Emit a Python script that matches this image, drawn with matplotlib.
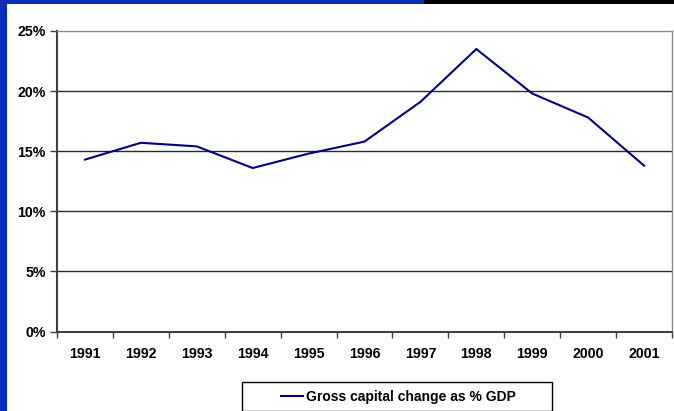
import matplotlib.pyplot as plt
from matplotlib.patches import Rectangle
from matplotlib.ticker import FixedLocator, FuncFormatter

# gross capital change, % of GDP
years = ['1991', '1992', '1993', '1994', '1995', '1996',
         '1997', '1998', '1999', '2000', '2001']
capital_pct = [14.3, 15.7, 15.4, 13.6, 14.8, 15.8,
               19.1, 23.5, 19.8, 17.8, 13.8]
y_ticks = [0, 5, 10, 15, 20, 25]

plt.rcParams['font.family'] = ['Liberation Sans', 'DejaVu Sans']

fig = plt.figure(figsize=(6.74, 4.11), dpi=100)
fig.patch.set_facecolor('white')

# slide decoration: blue edge on the left, blue/black strip on top
fig.add_artist(Rectangle((0, 0), 7 / 674, 1, transform=fig.transFigure,
                         facecolor='#0a2fb6', edgecolor='none'))
fig.add_artist(Rectangle((0, 1 - 4 / 411), 424 / 674, 4 / 411, transform=fig.transFigure,
                         facecolor='#0a2fb6', edgecolor='none'))
fig.add_artist(Rectangle((424 / 674, 1 - 4 / 411), 250 / 674, 4 / 411, transform=fig.transFigure,
                         facecolor='black', edgecolor='none'))

ax = fig.add_axes([57 / 674, 79.5 / 411, 615 / 674, 300.5 / 411])

x = [i + 0.5 for i in range(len(years))]
line, = ax.plot(x, capital_pct, color='#000080', lw=1.5, solid_joinstyle='miter',
                label='Gross capital change as % GDP', zorder=3)

ax.set_xlim(0, len(years))
ax.set_ylim(0, 25)

# category boundaries carry the tick marks, the centres carry the labels
ax.xaxis.set_major_locator(FixedLocator(range(len(years) + 1)))
ax.xaxis.set_major_formatter(FuncFormatter(lambda v, p: ''))
ax.xaxis.set_minor_locator(FixedLocator(x))
ax.set_xticklabels(years, minor=True)
ax.tick_params(axis='x', which='major', length=4, width=1, color='#404040', direction='out')
ax.tick_params(axis='x', which='minor', length=0, pad=11, labelsize=10.2)

ax.set_yticks(y_ticks)
ax.set_yticklabels([f'{v}%' for v in y_ticks])
ax.tick_params(axis='y', length=5, width=1, color='#404040', direction='out', pad=3, labelsize=10.2)
for lab in ax.get_xticklabels(minor=True) + ax.get_yticklabels():
    lab.set_fontweight('bold')

for v in y_ticks[1:-1]:
    ax.axhline(v, color='#2a2a2a', lw=1.0, zorder=1)

for side in ['top', 'right']:
    ax.spines[side].set_color('#8c8c8c')
    ax.spines[side].set_linewidth(1.0)
for side in ['left', 'bottom']:
    ax.spines[side].set_color('#404040')
    ax.spines[side].set_linewidth(1.5)

# legend box under the chart
fig.add_artist(Rectangle((242 / 674, 0.5 / 411), 310 / 674, 28.5 / 411, transform=fig.transFigure,
                         facecolor='white', edgecolor='black', lw=1.0))
fig.legend(handles=[line], loc='center', bbox_to_anchor=(398 / 674, 14.5 / 411),
           frameon=False, handlelength=1.6, handletextpad=0.2,
           prop={'weight': 'bold', 'size': 10})

fig.savefig('out.png', dpi=100)
